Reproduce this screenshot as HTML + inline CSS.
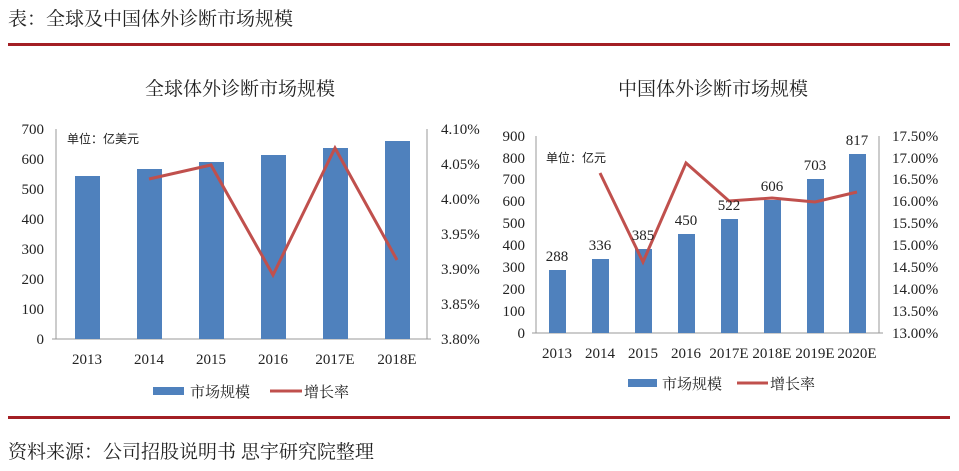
<!DOCTYPE html><html><head><meta charset="utf-8"><style>body{margin:0;background:#fff}svg{display:block}text{font-family:"Liberation Serif","Noto Serif CJK SC",serif;fill:#222}</style></head><body>
<svg width="959" height="471" viewBox="0 0 959 471">
<text x="8" y="25" font-size="19" style="font-family:'Noto Serif CJK SC',serif">表：全球及中国体外诊断市场规模</text>
<rect x="8" y="43" width="942" height="3" fill="#a31f24"/>
<rect x="8" y="416" width="942" height="3" fill="#a31f24"/>
<text x="8" y="458" font-size="19" style="font-family:'Noto Serif CJK SC',serif">资料来源：公司招股说明书 思宇研究院整理</text>
<!-- left chart -->
<text x="240" y="95" font-size="19" text-anchor="middle" style="font-family:'Noto Serif CJK SC',serif">全球体外诊断市场规模</text>
<g font-size="15" text-anchor="end">
<text x="44" y="344">0</text><text x="44" y="314">100</text><text x="44" y="284">200</text><text x="44" y="254">300</text><text x="44" y="224">400</text><text x="44" y="194">500</text><text x="44" y="164">600</text><text x="44" y="134">700</text></g>
<g font-size="15"><text x="441" y="344">3.80%</text><text x="441" y="309">3.85%</text><text x="441" y="274">3.90%</text><text x="441" y="239">3.95%</text><text x="441" y="204">4.00%</text><text x="441" y="169">4.05%</text><text x="441" y="134">4.10%</text></g>
<g stroke="#999" stroke-width="1"><line x1="56" y1="129" x2="56" y2="339"/><line x1="427" y1="129" x2="427" y2="339"/><line x1="52" y1="339" x2="431" y2="339"/></g>
<g fill="#4f81bd"><rect x="75" y="176" width="25" height="163"/><rect x="137" y="169" width="25" height="170"/><rect x="199" y="162" width="25" height="177"/><rect x="261" y="155" width="25" height="184"/><rect x="323" y="148" width="25" height="191"/><rect x="385" y="141" width="25" height="198"/></g>
<polyline points="149,179 211,165 273,275 335,148 397,260" fill="none" stroke="#c0504d" stroke-width="3"/>
<text x="67" y="143" font-size="12" style="font-family:'Noto Sans CJK SC',sans-serif">单位：亿美元</text>
<g font-size="15" text-anchor="middle"><text x="87" y="364">2013</text><text x="149" y="364">2014</text><text x="211" y="364">2015</text><text x="273" y="364">2016</text><text x="335" y="364">2017E</text><text x="397" y="364">2018E</text></g>
<rect x="153" y="387" width="31" height="8" fill="#4f81bd"/><text x="190" y="397" font-size="15" style="font-family:'Noto Serif CJK SC',serif">市场规模</text>
<line x1="270" y1="391" x2="302" y2="391" stroke="#c0504d" stroke-width="3"/><text x="304" y="397" font-size="15" style="font-family:'Noto Serif CJK SC',serif">增长率</text>
<!-- right chart -->
<text x="713" y="95" font-size="19" text-anchor="middle" style="font-family:'Noto Serif CJK SC',serif">中国体外诊断市场规模</text>
<g font-size="15" text-anchor="end">
<text x="525" y="338">0</text><text x="525" y="316">100</text><text x="525" y="294">200</text><text x="525" y="272">300</text><text x="525" y="250">400</text><text x="525" y="228">500</text><text x="525" y="206">600</text><text x="525" y="184">700</text><text x="525" y="163">800</text><text x="525" y="141">900</text></g>
<g font-size="15"><text x="892" y="338">13.00%</text><text x="892" y="316">13.50%</text><text x="892" y="294">14.00%</text><text x="892" y="272">14.50%</text><text x="892" y="250">15.00%</text><text x="892" y="228">15.50%</text><text x="892" y="206">16.00%</text><text x="892" y="184">16.50%</text><text x="892" y="163">17.00%</text><text x="892" y="141">17.50%</text></g>
<g stroke="#999" stroke-width="1"><line x1="536" y1="136" x2="536" y2="333"/><line x1="879" y1="136" x2="879" y2="333"/><line x1="532" y1="333" x2="883" y2="333"/></g>
<g fill="#4f81bd"><rect x="549" y="270" width="17" height="63"/><rect x="592" y="259" width="17" height="74"/><rect x="635" y="249" width="17" height="84"/><rect x="678" y="234" width="17" height="99"/><rect x="721" y="219" width="17" height="114"/><rect x="764" y="200" width="17" height="133"/><rect x="807" y="179" width="17" height="154"/><rect x="849" y="154" width="17" height="179"/></g>
<polyline points="600,173 643,262 686,163 729,201 772,198 815,202 857,192" fill="none" stroke="#c0504d" stroke-width="3"/>
<text x="546" y="162" font-size="12" style="font-family:'Noto Sans CJK SC',sans-serif">单位：亿元</text>
<g font-size="15" text-anchor="middle"><text x="557" y="261">288</text><text x="600" y="250">336</text><text x="643" y="240">385</text><text x="686" y="225">450</text><text x="729" y="210">522</text><text x="772" y="191">606</text><text x="815" y="170">703</text><text x="857" y="145">817</text></g>
<g font-size="15" text-anchor="middle"><text x="557" y="358">2013</text><text x="600" y="358">2014</text><text x="643" y="358">2015</text><text x="686" y="358">2016</text><text x="729" y="358">2017E</text><text x="772" y="358">2018E</text><text x="815" y="358">2019E</text><text x="857" y="358">2020E</text></g>
<rect x="628" y="379" width="29" height="8" fill="#4f81bd"/><text x="662" y="389" font-size="15" style="font-family:'Noto Serif CJK SC',serif">市场规模</text>
<line x1="737" y1="383" x2="768" y2="383" stroke="#c0504d" stroke-width="3"/><text x="770" y="389" font-size="15" style="font-family:'Noto Serif CJK SC',serif">增长率</text>
</svg></body></html>
